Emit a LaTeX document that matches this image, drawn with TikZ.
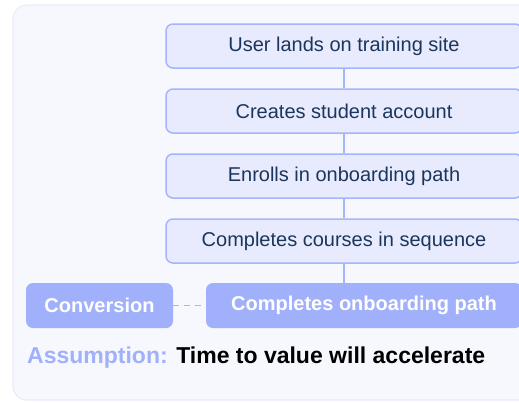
\documentclass[tikz,border=0pt]{standalone}
\usepackage{fontspec}
\setmainfont{Liberation Sans}
\definecolor{panelfill}{HTML}{F7F8FE}
\definecolor{paneledge}{HTML}{E9ECF9}
\definecolor{stepfill}{HTML}{E8EBFD}
\definecolor{stepedge}{HTML}{A5B4FC}
\definecolor{steptext}{HTML}{1B355C}
\definecolor{goalfill}{HTML}{A1B0FB}
\begin{document}
\begin{tikzpicture}[x=1pt,y=-1pt,
  stepbox/.style={draw=stepedge, line width=1.5pt, fill=stepfill, rounded corners=7pt,
    minimum height=44pt, minimum width=356pt, text=steptext, font=\fontsize{20}{24}\selectfont},
  goalbox/.style={fill=goalfill, rounded corners=7pt, minimum height=45pt,
    text=white, font=\bfseries\fontsize{20}{24}\selectfont},
  link/.style={draw=stepedge, line width=1.5pt}]
  \useasboundingbox (0,0) rectangle (519,402);
  % panel
  \draw[paneledge, fill=panelfill, line width=1.2pt, rounded corners=14pt] (13,5) rectangle (560,400);
  % funnel steps
  \node[stepbox] (s1) at (344,46) {User lands on training site};
  \node[stepbox] (s2) at (344,111) {Creates student account};
  \node[stepbox] (s3) at (344,176) {Enrolls in onboarding path};
  \node[stepbox] (s4) at (344,241) {Completes courses in sequence};
  \node[goalbox, minimum width=316pt] (s5) at (364,305.5) {Completes onboarding path};
  \node[goalbox, minimum width=147pt] (conv) at (99.5,305.5) {Conversion};
  % connectors
  \draw[link] (s1) -- (s2);
  \draw[link] (s2) -- (s3);
  \draw[link] (s3) -- (s4);
  \draw[link] (s4.south) -- (s4.south |- s5.north);
  \draw[link, dash pattern=on 6pt off 5pt] (conv) -- (s5);
  % assumption line
  \node[anchor=west, font=\bfseries\fontsize{23}{27}\selectfont, inner sep=0pt] (note) at (27,358)
    {\textcolor{goalfill}{Assumption:} Time to value will accelerate};
\end{tikzpicture}
\end{document}
